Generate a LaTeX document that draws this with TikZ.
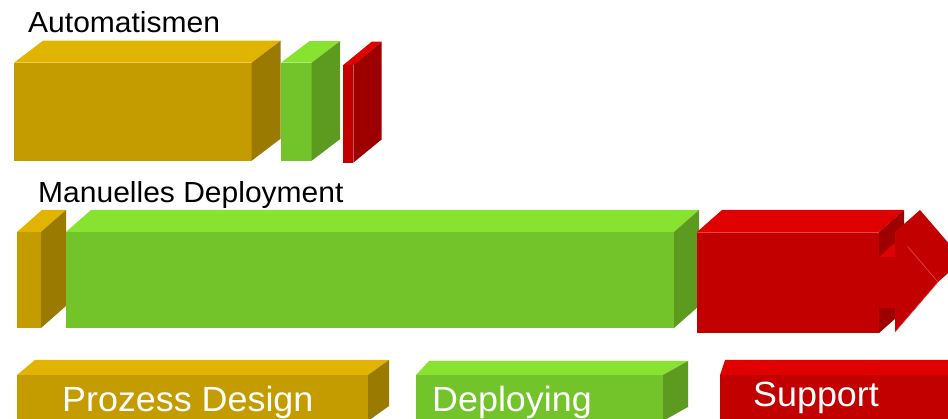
\documentclass[tikz,border=0pt]{standalone}
\usepackage{fontspec}
\setmainfont{Liberation Sans}
\definecolor{goldF}{RGB}{196,156,0}
\definecolor{goldT}{RGB}{224,180,0}
\definecolor{goldS}{RGB}{154,122,0}
\definecolor{greenF}{RGB}{115,196,42}
\definecolor{greenT}{RGB}{136,226,48}
\definecolor{greenS}{RGB}{92,154,32}
\definecolor{redF}{RGB}{194,0,0}
\definecolor{redT}{RGB}{224,0,0}
\definecolor{redS}{RGB}{158,0,0}
\definecolor{redL}{RGB}{228,70,70}
\tikzset{
  gF/.style={fill=goldF}, gT/.style={fill=goldT}, gS/.style={fill=goldS},
  nF/.style={fill=greenF}, nT/.style={fill=greenT}, nS/.style={fill=greenS},
  rF/.style={fill=redF}, rT/.style={fill=redT}, rS/.style={fill=redS},
  heading/.style={anchor=base west, inner sep=0pt, text=black, xscale=1.035, font=\fontsize{29}{34}\selectfont},
  label/.style={anchor=base west, inner sep=0pt, text=white, xscale=1.025, font=\fontsize{35}{40}\selectfont},
}
\begin{document}
\begin{tikzpicture}[x=1pt,y=-1pt]
\useasboundingbox (0,0) rectangle (948,419);
\begin{scope}
\clip (0,0) rectangle (948,419);
% ---- top row (Automatismen)
\fill[gF] (14,62.7) rectangle (251.7,160.7);
\fill[gT] (14,62.7) -- (43,40.7) -- (280.7,40.7) -- (251.7,62.7) -- cycle;
\fill[gS] (251.7,62.7) -- (280.7,40.7) -- (280.7,138.7) -- (251.7,160.7) -- cycle;
\fill[nF] (281,62.7) rectangle (311.7,160.7);
\fill[nT] (281,62.7) -- (309.3,41.2) -- (340,41.2) -- (311.7,62.7) -- cycle;
\fill[nS] (311.7,62.7) -- (340,41.2) -- (340,139.2) -- (311.7,160.7) -- cycle;
\fill[rF] (343.3,65) rectangle (353.3,162.7);
\fill[rT] (343.3,65) -- (371.7,41.7) -- (381.7,41.7) -- (353.3,65) -- cycle;
\fill[rS] (353.3,65) -- (381.7,41.7) -- (381.7,139.4) -- (353.3,162.7) -- cycle;
% ---- middle row (Manuelles Deployment)
\fill[gF] (17,232) rectangle (41,328);
\fill[gT] (17,232) -- (42,210) -- (66,210) -- (41,232) -- cycle;
\fill[gS] (41,232) -- (66,210) -- (66,306) -- (41,328) -- cycle;
\fill[nF] (66,232) rectangle (674,328);
\fill[nT] (66,232) -- (91,210) -- (699,210) -- (674,232) -- cycle;
\fill[nS] (674,232) -- (699,210) -- (699,306) -- (674,328) -- cycle;
\fill[rF] (697,232) rectangle (879,333);
\fill[rT] (697,232) -- (722,210) -- (904,210) -- (879,232) -- cycle;
\fill[rS] (879,232) -- (904,210) -- (904,311) -- (879,333) -- cycle;
\fill[rT] (879,257) -- (904,235) -- (920,235) -- (895,257) -- cycle;
\fill[rF] (879,257) rectangle (895,308);
\fill[rF] (895,232) -- (920,210) -- (963,260) -- (938,282) -- cycle;
\fill[rF] (895,232) -- (938,282) -- (895,332) -- cycle;
\draw[redL, line width=0.6pt] (908,247) -- (938,282) -- (895,332);
\draw[redL, line width=0.5pt] (697,232) -- (879,232);
% ---- bottom row (legend)
\fill[gF] (17,375) rectangle (368,421);
\fill[gT] (17,375) -- (35,360) -- (389,360) -- (368,375) -- cycle;
\fill[gS] (368,375) -- (389,360) -- (389,406) -- (368,421) -- cycle;
\fill[nF] (416,375) rectangle (663,421);
\fill[nT] (416,375) -- (429,361) -- (688,361) -- (663,375) -- cycle;
\fill[nS] (663,375) -- (688,361) -- (688,407) -- (663,421) -- cycle;
\fill[rF] (720,375) rectangle (950,421);
\fill[rT] (720,375) -- (725,360) -- (950,360) -- (950,375) -- cycle;
\end{scope}
% ---- texts
\node[heading] (auto) at (28,32.3) {Automatismen};
\node[heading] (manu) at (38,202.7) {Manuelles Deployment};
\node[label] (design) at (62,411.7) {Prozess Design};
\node[label] (deploy) at (432,411.7) {Deploying};
\node[label] (support) at (753,406.7) {Support};
\end{tikzpicture}
\end{document}
